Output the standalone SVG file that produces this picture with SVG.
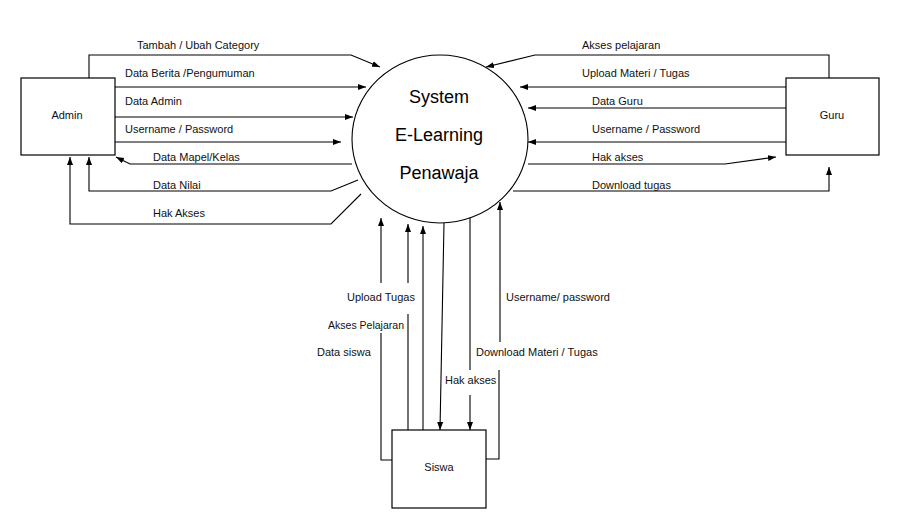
<svg xmlns="http://www.w3.org/2000/svg" width="914" height="522" viewBox="0 0 914 522">
<defs>
<marker id="arr" markerWidth="9" markerHeight="7" refX="8" refY="3" orient="auto" markerUnits="userSpaceOnUse">
<path d="M0,0 L8,3 L0,6 z" fill="#000"/>
</marker>
<style>
.box{fill:#fff;stroke:#000;stroke-width:1.2}
.ln{fill:none;stroke:#000;stroke-width:1.1}
.ar{marker-end:url(#arr)}
.lbl{font-family:"Liberation Sans",Arial,sans-serif;font-size:11px;fill:#111}
.nm{font-family:"Liberation Sans",Arial,sans-serif;font-size:11px;fill:#111;text-anchor:middle}
.big{font-family:"Liberation Sans",Arial,sans-serif;font-size:18px;fill:#000;text-anchor:middle}
</style>
</defs>
<rect width="914" height="522" fill="#fff"/>
<g id="connectors">
<path class="ln ar" d="M89,78 V55 H351 L380,67"/>
<path class="ln ar" d="M115,87 H366"/>
<path class="ln ar" d="M115,117 H353"/>
<path class="ln ar" d="M115,142 H341"/>
<path class="ln ar" d="M352,164 H130 L116,157"/>
<path class="ln ar" d="M358,180 L331,191 H89 V157"/>
<path class="ln ar" d="M361,194 L331,224 H70 V157"/>
<path class="ln ar" d="M829,78 V55 H535 L486,67"/>
<path class="ln ar" d="M786,87 H520"/>
<path class="ln ar" d="M786,108 H528"/>
<path class="ln ar" d="M786,142 H528"/>
<path class="ln ar" d="M528,164 H725 L776,157"/>
<path class="ln ar" d="M513,191 H829 V167"/>
<path class="ln ar" d="M392,460 H381 V333 M381,283 V218"/>
<path class="ln ar" d="M408,430 V314 M408,283 V224"/>
<path class="ln ar" d="M423,430 V226"/>
<path class="ln ar" d="M444,223 L440,430"/>
<path class="ln ar" d="M470,217 V370 M470,395 V430"/>
<path class="ln ar" d="M486,459 H499 V370 M500,342 V202"/>
</g>
<g id="labels">
<text class="lbl" x="137" y="49">Tambah / Ubah Category</text>
<text class="lbl" x="125" y="77">Data Berita /Pengumuman</text>
<text class="lbl" x="125" y="105">Data Admin</text>
<text class="lbl" x="125" y="133">Username / Password</text>
<text class="lbl" x="153" y="161">Data Mapel/Kelas</text>
<text class="lbl" x="153" y="189">Data Nilai</text>
<text class="lbl" x="153" y="217">Hak Akses</text>
<text class="lbl" x="582" y="49">Akses pelajaran</text>
<text class="lbl" x="582" y="77">Upload Materi / Tugas</text>
<text class="lbl" x="592" y="105">Data Guru</text>
<text class="lbl" x="592" y="133">Username / Password</text>
<text class="lbl" x="592" y="161">Hak akses</text>
<text class="lbl" x="592" y="189">Download tugas</text>
<text class="lbl" x="347" y="301">Upload Tugas</text>
<text class="lbl" x="506" y="301">Username/ password</text>
<text class="lbl" x="328" y="329" textLength="76" lengthAdjust="spacingAndGlyphs">Akses Pelajaran</text>
<text class="lbl" x="317" y="356">Data siswa</text>
<text class="lbl" x="476" y="356">Download Materi / Tugas</text>
<text class="lbl" x="445" y="384">Hak akses</text>
</g>
<g id="system">
<ellipse cx="440" cy="139" rx="88" ry="84" fill="#fff" stroke="#000" stroke-width="1.1"/>
<text class="big" x="439" y="103">System</text>
<text class="big" x="439" y="141">E-Learning</text>
<text class="big" x="439" y="179">Penawaja</text>
</g>
<g id="admin">
<rect class="box" x="21" y="78" width="94" height="77"/>
<text class="nm" x="67" y="119">Admin</text>
</g>
<g id="guru">
<rect class="box" x="786" y="78" width="93" height="77"/>
<text class="nm" x="832" y="119">Guru</text>
</g>
<g id="siswa">
<rect class="box" x="392" y="430" width="94" height="78"/>
<text class="nm" x="439" y="471">Siswa</text>
</g>
</svg>
